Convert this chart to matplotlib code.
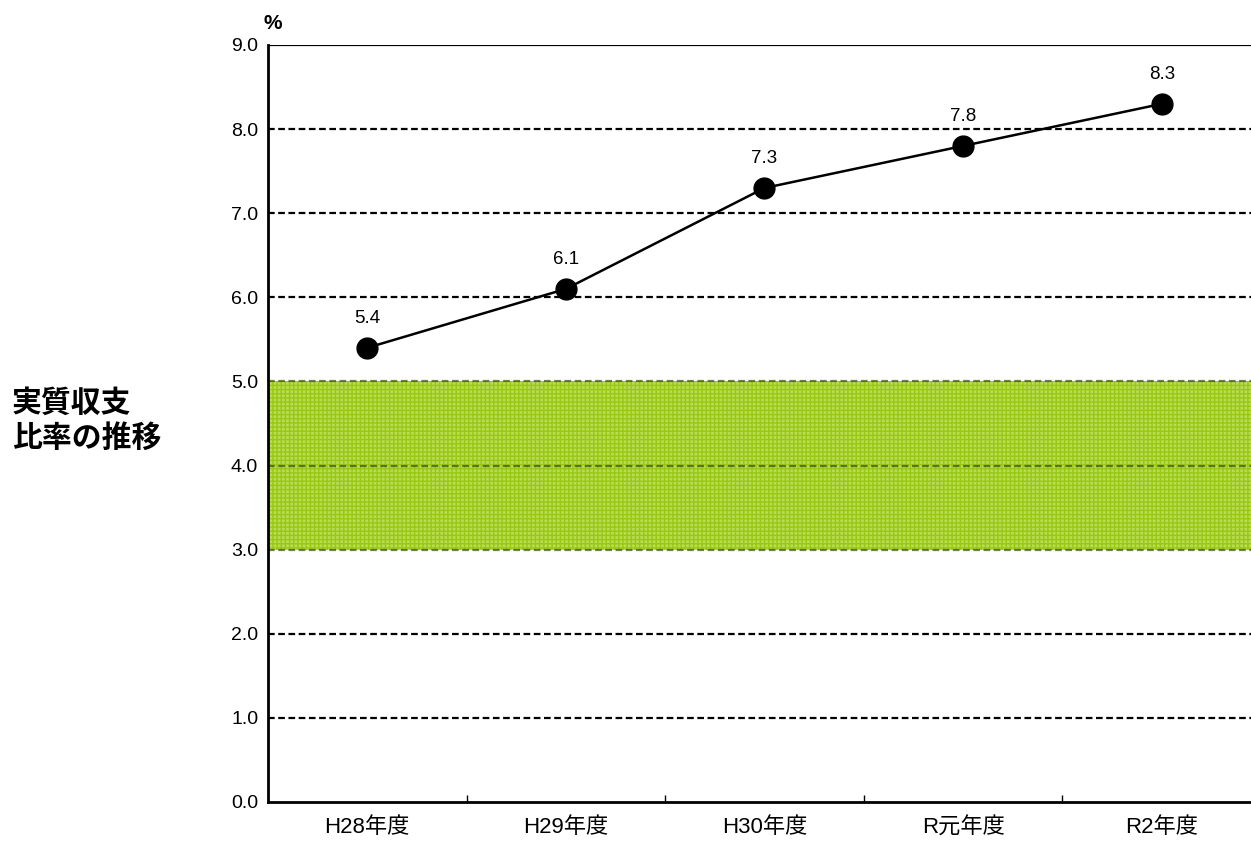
import matplotlib as mpl
mpl.use('Agg')
import matplotlib.pyplot as plt
import numpy as np

plt.rcParams['font.family'] = ['Liberation Sans', 'Noto Sans CJK JP', 'DejaVu Sans']

years = ['H28年度', 'H29年度', 'H30年度', 'R元年度', 'R2年度']
ratio = [5.4, 6.1, 7.3, 7.8, 8.3]
band_low, band_high = 3.0, 5.0
yticks = np.arange(0, 10, 1.0)

fig = plt.figure(figsize=(12.51, 8.41), dpi=100)
ax = fig.add_axes([0.2142, 0.0464, 0.7938, 0.9001])

x = np.arange(len(years))
ax.set_xlim(-0.5, len(years) - 0.5)
ax.set_ylim(0, 9)

# recommended range band
ax.axhspan(band_low, band_high, facecolor='#b9dc55', edgecolor='#98c814',
           hatch='++++', linewidth=0, zorder=1)

# dashed grid
for v in yticks[1:-1]:
    inside = band_low <= v <= band_high
    ax.axhline(v, color='#3a4a10' if inside else 'black', lw=1.6,
               ls=(0, (3, 1.6)), zorder=2, alpha=0.7 if inside else 1.0)
ax.axhline(yticks[-1], color='black', lw=1.6, zorder=2)

ax.plot(x, ratio, color='black', lw=1.8, marker='o', ms=15, zorder=4,
        clip_on=False)
for xi, v in zip(x, ratio):
    ax.annotate(f'{v:.1f}', (xi, v), xytext=(0, 21), textcoords='offset points',
                ha='center', va='center', fontsize=13.5)

ax.set_yticks(yticks)
ax.set_yticklabels([f'{v:.1f}' for v in yticks], fontsize=14)
ax.set_xticks(x)
ax.set_xticklabels(years, fontsize=16)
ax.set_xticks(np.arange(0.5, len(years) - 0.5, 1), minor=True)
ax.tick_params(axis='x', which='major', length=0, pad=11)
ax.tick_params(axis='x', which='minor', direction='in', length=5, width=1)
ax.tick_params(axis='y', length=0, pad=7)

for s in ['top', 'right']:
    ax.spines[s].set_visible(False)
ax.spines['left'].set_linewidth(2)
ax.spines['bottom'].set_linewidth(2)

ax.text(-0.004, 1.016, '%', transform=ax.transAxes, fontsize=15, fontweight='bold',
        ha='left', va='bottom')
fig.text(0.0096, 0.5, '実質収支\n比率の推移', fontsize=21.5, fontweight='bold',
         ha='left', va='center', family=['Noto Sans CJK JP'], linespacing=1.2)

fig.savefig('out.png', dpi=100)
